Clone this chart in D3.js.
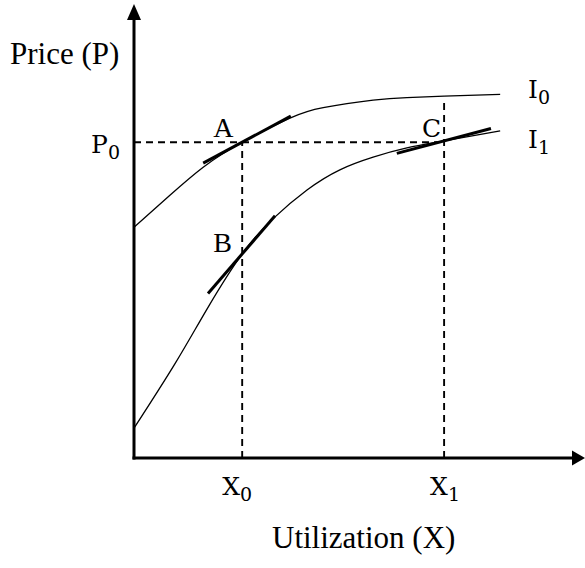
<!DOCTYPE html>
<html>
<head>
<meta charset="utf-8">
<script src="https://cdn.jsdelivr.net/npm/d3@7"></script>
<style>
  body { margin: 0; background: white; }
  svg { display: block; }
</style>
</head>
<body>
<div id="chart-area"></div>
<script>
// curve points (utilization, price)
const curveI0X = [0, 8.2, 15.8, 24.7, 35.6, 43.2, 54.6, 62.3, 70.8, 83.6];
const curveI0Y = [52.7, 60.0, 66.4, 72.1, 77.6, 80.0, 81.7, 82.3, 82.6, 83.0];
const curveI1X = [0, 9.4, 16.9, 24.7, 31.7, 39.5, 47.0, 54.6, 62.3, 70.8, 83.6];
const curveI1Y = [6.8, 21.6, 34.4, 46.6, 54.6, 61.2, 65.8, 68.7, 70.8, 72.4, 74.7];

// tangent points A, B, C
const pointNames = ["A", "B", "C"];
const pointX = [24.7, 24.7, 70.8];
const pointY = [72.1, 46.6, 72.4];
const pointSlope = [0.535, 1.16, 0.265];
const tangentLeft = [8.9, 7.8, 10.8];
const tangentRight = [11.1, 7.5, 10.7];

// reference levels
const P0 = 72.1, X0 = 24.7, X1 = 70.8;
const dashEndP0 = 69.2, dashTopX1 = 82.2;

var width = 585, height = 568;

let svg = d3.select("#chart-area").append("svg")
  .attr("width", width)
  .attr("height", height);

let xScale = d3.scaleLinear().domain([0, 100]).range([134, 572]);
let yScale = d3.scaleLinear().domain([0, 100]).range([458, 20]);

let line = d3.line()
  .x(d => xScale(d[0]))
  .y(d => yScale(d[1]))
  .curve(d3.curveNatural);

// dashed guide lines
let dashes = [
  [[0, P0], [dashEndP0, P0]],
  [[X0, 0], [X0, P0]],
  [[X1, 0], [X1, dashTopX1]]
];
svg.selectAll(".guide")
  .data(dashes)
  .enter()
  .append("line")
  .attr("class", "guide")
  .attr("x1", d => xScale(d[0][0]))
  .attr("y1", d => yScale(d[0][1]))
  .attr("x2", d => xScale(d[1][0]))
  .attr("y2", d => yScale(d[1][1]))
  .attr("stroke", "black")
  .attr("stroke-width", 1.9)
  .attr("stroke-dasharray", "7,5");

// the two curves
let curves = [d3.zip(curveI0X, curveI0Y), d3.zip(curveI1X, curveI1Y)];
svg.selectAll(".curve")
  .data(curves)
  .enter()
  .append("path")
  .attr("class", "curve")
  .attr("d", d => line(d))
  .attr("fill", "none")
  .attr("stroke", "black")
  .attr("stroke-width", 1.3);

// tangents
let tangents = pointNames.map((n, i) => [
  [pointX[i] - tangentLeft[i], pointY[i] - tangentLeft[i] * pointSlope[i]],
  [pointX[i] + tangentRight[i], pointY[i] + tangentRight[i] * pointSlope[i]]
]);
svg.selectAll(".tangent")
  .data(tangents)
  .enter()
  .append("line")
  .attr("class", "tangent")
  .attr("x1", d => xScale(d[0][0]))
  .attr("y1", d => yScale(d[0][1]))
  .attr("x2", d => xScale(d[1][0]))
  .attr("y2", d => yScale(d[1][1]))
  .attr("stroke", "black")
  .attr("stroke-width", 3);

// axes with arrow heads
let x0 = xScale(0), y0 = yScale(0), xEnd = xScale(100), yEnd = yScale(100);
svg.append("line")
  .attr("x1", x0).attr("y1", y0 + 1.5)
  .attr("x2", x0).attr("y2", yEnd)
  .attr("stroke", "black").attr("stroke-width", 3);
svg.append("line")
  .attr("x1", x0 - 1.5).attr("y1", y0)
  .attr("x2", xEnd).attr("y2", y0)
  .attr("stroke", "black").attr("stroke-width", 3);
svg.append("path")
  .attr("d", `M${x0},${yEnd - 16} L${x0 - 7},${yEnd} L${x0 + 7},${yEnd} Z`)
  .attr("fill", "black");
svg.append("path")
  .attr("d", `M${xEnd + 13},${y0} L${xEnd},${y0 - 7.5} L${xEnd},${y0 + 7.5} Z`)
  .attr("fill", "black");

// axis titles
svg.append("text")
  .attr("x", 10).attr("y", 64)
  .style("font-family", "Liberation Serif, serif")
  .style("font-size", "31px")
  .text("Price (P)");
svg.append("text")
  .attr("x", 272).attr("y", 548)
  .style("font-family", "Liberation Serif, serif")
  .style("font-size", "31px")
  .text("Utilization (X)");

// math labels with subscripts
function subLabel(x, y, main, sub, anchor) {
  let t = svg.append("text")
    .attr("x", x).attr("y", y)
    .attr("text-anchor", anchor || "start")
    .style("font-family", "DejaVu Serif, serif")
    .style("font-size", "25px");
  t.append("tspan").text(main);
  t.append("tspan")
    .attr("dy", 6)
    .style("font-size", "19px")
    .text(sub);
}
subLabel(x0 - 14, yScale(P0) + 11, "P", "0", "end");
subLabel(xScale(X0) - 20, 495, "X", "0");
subLabel(xScale(X1) - 14, 495, "X", "1");
subLabel(528, yScale(curveI0Y[curveI0Y.length - 1]) + 4, "I", "0");
subLabel(528, yScale(curveI1Y[curveI1Y.length - 1]) + 17, "I", "1");

// point labels
let pointFonts = ["Liberation Serif, serif", "Liberation Serif, serif", "DejaVu Serif, serif"];
let pointDx = [-29, -29, -22];
let pointDy = [-5, -2, -4];
svg.selectAll(".pt-label")
  .data(pointNames)
  .enter()
  .append("text")
  .attr("class", "pt-label")
  .attr("x", (d, i) => xScale(pointX[i]) + pointDx[i])
  .attr("y", (d, i) => yScale(pointY[i]) + pointDy[i])
  .style("font-family", (d, i) => pointFonts[i])
  .style("font-size", (d, i) => i < 2 ? "28px" : "25px")
  .text(d => d);
</script>
</body>
</html>
